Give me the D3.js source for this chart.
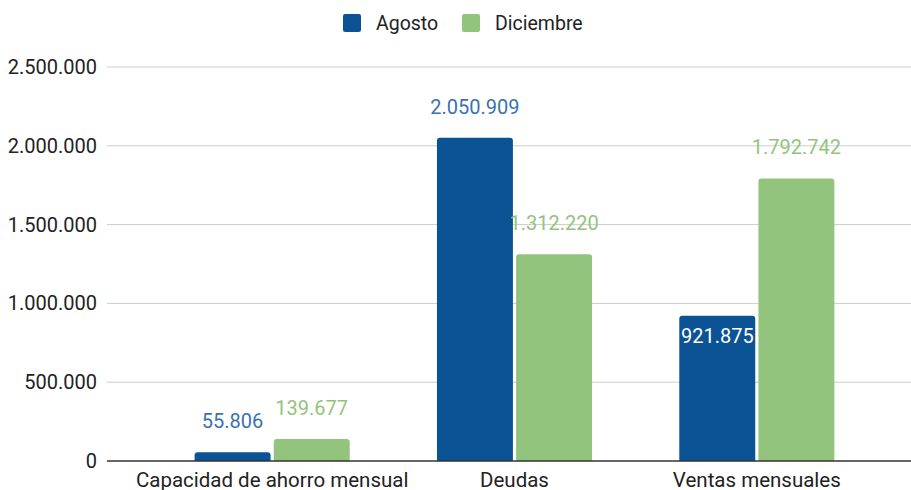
<!DOCTYPE html>
<html lang="es">
<head>
    <meta charset="UTF-8">
    <title>Agosto vs Diciembre</title>
    <script src="https://d3js.org/d3.v7.min.js"></script>
    <style>
        body {
            margin: 0;
            padding: 0;
            background-color: #fff;
            font-family: Roboto, Arial, sans-serif;
        }
        #chart text {
            font-family: Roboto, Arial, sans-serif;
        }
    </style>
</head>
<body>
    <div id="chart"></div>

    <script>
        // Chart data
        const categories = ["Capacidad de ahorro mensual", "Deudas", "Ventas mensuales"];
        const seriesNames = ["Agosto", "Diciembre"];
        const agosto = [55806, 2050909, 921875];
        const diciembre = [139677, 1312220, 1792742];
        const yTicks = [0, 500000, 1000000, 1500000, 2000000, 2500000];
        // labels that sit inside the bar instead of above it
        const insideLabels = ["Ventas mensuales|Agosto"];

        const colors = { "Agosto": "#0b5394", "Diciembre": "#93c47d" };
        const labelColors = { "Agosto": "#3a72b0", "Diciembre": "#93c47d" };

        const width = 911, height = 490;
        const margin = { top: 67, right: 0, bottom: 29, left: 107 };

        // es-ES style thousands separator
        const fmt = d3.formatLocale({ decimal: ",", thousands: ".", grouping: [3], currency: ["", ""] }).format(",d");

        const svg = d3.select("#chart")
            .append("svg")
            .attr("width", width)
            .attr("height", height);

        const y = d3.scaleLinear()
            .domain([0, 2500000])
            .range([height - margin.bottom, margin.top]);

        const x0 = d3.scaleBand()
            .domain(categories)
            .range([151, 878])
            .paddingInner(0.36)
            .paddingOuter(0.18);

        const x1 = d3.scaleBand()
            .domain(seriesNames)
            .range([0, x0.bandwidth()])
            .paddingInner(0.04);

        // Gridlines
        svg.append("g")
            .selectAll("line")
            .data(yTicks.filter(d => d > 0))
            .enter()
            .append("line")
            .attr("x1", margin.left)
            .attr("x2", width)
            .attr("y1", d => y(d))
            .attr("y2", d => y(d))
            .attr("stroke", "#cccccc")
            .attr("stroke-width", 1);

        // Y axis labels
        const yAxis = svg.append("g")
            .attr("transform", `translate(${margin.left - 10},0)`)
            .call(d3.axisLeft(y).tickValues(yTicks).tickFormat(fmt).tickSize(0).tickPadding(0));
        yAxis.select(".domain").remove();
        yAxis.selectAll("text")
            .attr("font-size", 20)
            .attr("fill", "#222");

        // Bars
        const rows = [];
        categories.forEach((c, i) => {
            rows.push({ cat: c, series: "Agosto", value: agosto[i] });
            rows.push({ cat: c, series: "Diciembre", value: diciembre[i] });
        });

        function topRounded(x, yTop, w, h, r) {
            r = Math.min(r, h, w / 2);
            return `M${x},${yTop + h}V${yTop + r}Q${x},${yTop} ${x + r},${yTop}H${x + w - r}Q${x + w},${yTop} ${x + w},${yTop + r}V${yTop + h}Z`;
        }

        svg.append("g")
            .selectAll("path")
            .data(rows)
            .enter()
            .append("path")
            .attr("d", d => {
                const bx = x0(d.cat) + x1(d.series);
                const by = y(d.value);
                return topRounded(bx, by, x1.bandwidth(), y(0) - by, 3);
            })
            .attr("fill", d => colors[d.series]);

        // Baseline
        svg.append("line")
            .attr("x1", margin.left)
            .attr("x2", width)
            .attr("y1", y(0))
            .attr("y2", y(0))
            .attr("stroke", "#333")
            .attr("stroke-width", 1.3);

        // Data labels
        svg.append("g")
            .selectAll("text")
            .data(rows)
            .enter()
            .append("text")
            .attr("x", d => x0(d.cat) + x1(d.series) + x1.bandwidth() / 2)
            .attr("y", d => insideLabels.includes(d.cat + "|" + d.series) ? y(d.value) + 27 : y(d.value) - 24)
            .attr("text-anchor", "middle")
            .attr("font-size", 20)
            .attr("fill", d => insideLabels.includes(d.cat + "|" + d.series) ? "#fff" : labelColors[d.series])
            .text(d => fmt(d.value));

        // Category labels
        svg.append("g")
            .selectAll("text")
            .data(categories)
            .enter()
            .append("text")
            .attr("x", d => x0(d) + x0.bandwidth() / 2)
            .attr("y", height - 3)
            .attr("text-anchor", "middle")
            .attr("font-size", 20.5)
            .attr("fill", "#222")
            .text(d => d);

        // Legend
        const legend = svg.append("g");
        const legendX = [343, 462];
        seriesNames.forEach((s, i) => {
            legend.append("rect")
                .attr("x", legendX[i])
                .attr("y", 14)
                .attr("width", 18)
                .attr("height", 18)
                .attr("rx", 2)
                .attr("fill", colors[s]);
            legend.append("text")
                .attr("x", legendX[i] + 33)
                .attr("y", 30)
                .attr("font-size", 19.5)
                .attr("fill", "#222")
                .text(s);
        });
    </script>
</body>
</html>
